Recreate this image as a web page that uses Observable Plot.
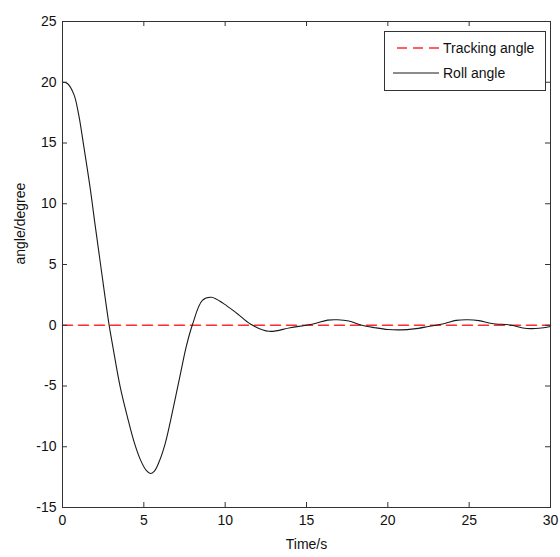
<!DOCTYPE html>
<html>
<head>
<meta charset="utf-8">
<script src="https://cdn.jsdelivr.net/npm/d3@7"></script>
<script src="https://cdn.jsdelivr.net/npm/@observablehq/plot@0.6"></script>
<style>
  html, body { margin: 0; padding: 0; background: #fff; }
  svg { font-family: "Liberation Sans", Arial, sans-serif; }
</style>
</head>
<body>
<div id="chart"></div>
<script>
const time = [0, 0.3, 0.7, 1.0, 1.3, 1.7, 2.0, 2.35, 2.85, 3.1, 3.55, 4.0, 4.4, 4.8, 5.15, 5.4, 5.65, 5.95, 6.3, 6.65, 7.25, 7.6, 8.0, 8.6, 9.15, 9.9, 10.75, 11.55, 12.7, 14.0, 15.4, 16.3, 16.9, 17.6, 18.4, 19.2, 20.0, 20.8, 21.6, 22.5, 23.5, 24.2, 24.9, 25.6, 26.4, 27.6, 28.3, 28.8, 29.3, 30];
const rollAngle = [20, 19.9, 19.0, 17.3, 14.8, 11.3, 8.3, 4.9, 0.15, -1.8, -5.1, -7.6, -9.6, -11.1, -11.95, -12.2, -12.0, -11.2, -9.8, -7.8, -4.0, -1.8, 0.1, 2.05, 2.3, 1.78, 0.95, 0.1, -0.5, -0.2, 0.1, 0.42, 0.45, 0.35, 0.0, -0.2, -0.35, -0.38, -0.3, -0.1, 0.15, 0.4, 0.45, 0.38, 0.15, 0.0, -0.22, -0.28, -0.25, -0.1];
const trackingTime = [0, 30];
const trackingAngle = [0, 0];
const xTicks = [0, 5, 10, 15, 20, 25, 30];
const yTicks = [-15, -10, -5, 0, 5, 10, 15, 20, 25];
const legendLabels = ["Tracking angle", "Roll angle"];
const xLabel = "Time/s";
const yLabel = "angle/degree";

const roll = time.map((t, i) => ({t, v: rollAngle[i]}));
const track = trackingTime.map((t, i) => ({t, v: trackingAngle[i]}));

const W = 560, H = 557;
const mL = 62, mR = 10, mT = 21, mB = 50;
const pw = W - mL - mR, ph = H - mT - mB;
const tk = 5;
const axisColor = "#333";
const fmt = d => String(d);

const chart = Plot.plot({
  width: W,
  height: H,
  marginLeft: mL,
  marginRight: mR,
  marginTop: mT,
  marginBottom: mB,
  style: {fontFamily: '"Liberation Sans", Arial, sans-serif', fontSize: "14px", color: "#111", background: "#fff"},
  x: {domain: [0, 30]},
  y: {domain: [-15, 25]},
  marks: [
    Plot.line(track, {x: "t", y: "v", stroke: "#ff2a2a", strokeWidth: 1.6, strokeDasharray: "10,6"}),
    Plot.line(roll, {x: "t", y: "v", stroke: "#1a1a1a", strokeWidth: 1.1, curve: "catmull-rom"}),
    Plot.frame({stroke: axisColor, strokeWidth: 1}),
    Plot.tickX(xTicks, {x: d => d, insetTop: ph - tk, stroke: axisColor}),
    Plot.tickX(xTicks, {x: d => d, insetBottom: ph - tk, stroke: axisColor}),
    Plot.tickY(yTicks, {y: d => d, insetRight: pw - tk, stroke: axisColor}),
    Plot.tickY(yTicks, {y: d => d, insetLeft: pw - tk, stroke: axisColor}),
    Plot.axisX(xTicks, {tickSize: 0, tickPadding: 8, label: null, tickFormat: fmt, fontSize: 14, fill: "#111"}),
    Plot.axisY(yTicks, {tickSize: 0, tickPadding: 6, label: null, tickFormat: fmt, fontSize: 14, fill: "#111"}),
    Plot.text([xLabel], {frameAnchor: "bottom", dy: 41, fontSize: 14, fill: "#111"}),
    Plot.text([yLabel], {frameAnchor: "left", dx: -42, rotate: -90, fontSize: 14, fill: "#111"})
  ]
});

// Legend inside plot (top-right)
const svg = d3.select(chart);
const g = svg.append("g")
  .attr("font-family", '"Liberation Sans", Arial, sans-serif')
  .attr("font-size", 14)
  .attr("text-anchor", "start");
const lx = 384, ly = 31, lw = 161, lh = 59;
g.append("rect").attr("x", lx + 0.5).attr("y", ly + 0.5).attr("width", lw).attr("height", lh)
  .attr("fill", "#fff").attr("stroke", axisColor);
const items = [
  {label: legendLabels[0], stroke: "#ff2a2a", dash: "10,6", width: 1.6, x1: 397},
  {label: legendLabels[1], stroke: "#1a1a1a", dash: null, width: 1.1, x1: 393}
];
items.forEach((it, i) => {
  const yy = ly + 17 + i * 25;
  g.append("line").attr("x1", it.x1).attr("x2", 439).attr("y1", yy).attr("y2", yy)
    .attr("stroke", it.stroke).attr("stroke-width", it.width).attr("stroke-dasharray", it.dash);
  g.append("text").attr("x", 443).attr("y", yy).attr("dy", "0.35em")
    .attr("text-anchor", "start").attr("fill", "#111").text(it.label);
});

document.getElementById("chart").appendChild(chart);
</script>
</body>
</html>
